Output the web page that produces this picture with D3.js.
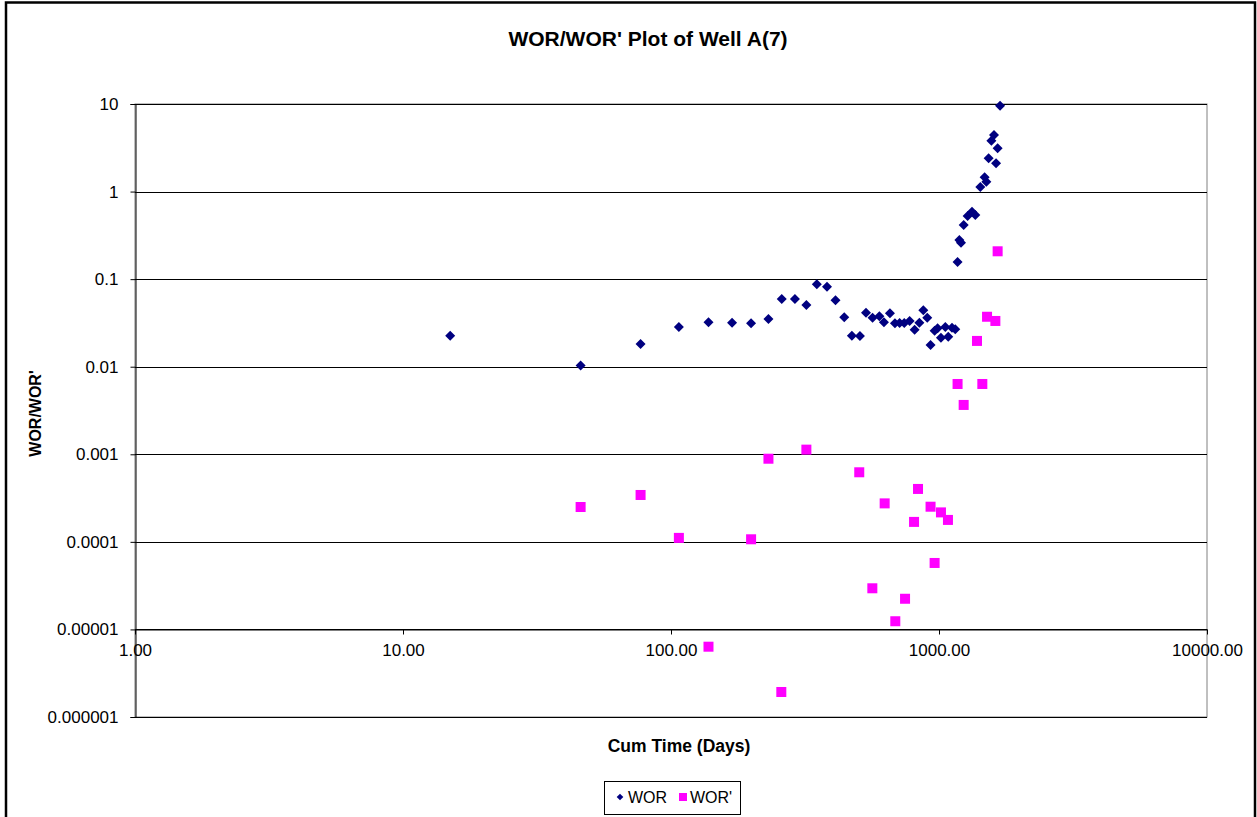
<!DOCTYPE html>
<html>
<head>
<meta charset="utf-8">
<script src="https://cdn.jsdelivr.net/npm/d3@7"></script>
<style>
  html, body { margin: 0; padding: 0; background: #fff; }
  svg { display: block; font-family: "Liberation Sans", Arial, sans-serif; }
</style>
</head>
<body>
<svg id="chart" width="1257" height="817"></svg>
<script>
// Cumulative time (days) and water-oil ratio
const worDays = [15, 46, 77, 107, 138, 169, 199, 231, 259, 290, 320, 350, 382, 411, 443,
  473, 507, 534, 565, 599, 623, 656, 685, 713, 742, 777, 811, 845, 874, 904,
  930, 963, 988, 1017, 1056, 1083, 1118, 1150, 1173, 1191, 1208, 1236, 1279, 1328, 1366,
  1426, 1480, 1502, 1532, 1568, 1604, 1633, 1655, 1690];
const worValues = [0.0226, 0.0103, 0.0182, 0.0284, 0.0321, 0.0318, 0.0313, 0.0351, 0.0593, 0.0593,
  0.0507, 0.0873, 0.082, 0.0573, 0.0367, 0.0226, 0.0224, 0.0414, 0.0363, 0.0376,
  0.0321, 0.0407, 0.0313, 0.0315, 0.0315, 0.0333, 0.0265, 0.0318, 0.0441, 0.0363,
  0.0177, 0.0258, 0.0275, 0.0214, 0.0284, 0.022, 0.0279, 0.0267, 0.157, 0.28,
  0.261, 0.415, 0.526, 0.589, 0.54, 1.128, 1.455, 1.296, 2.40, 3.81,
  4.43, 2.10, 3.12, 9.56];

// Derivative of WOR against cumulative time
const worPrimeDays = [46, 77, 107, 138, 199, 231, 258, 320, 504, 564, 627, 687, 747, 807, 835,
  930, 963, 1017, 1080, 1173, 1236, 1386, 1451, 1511, 1623, 1655];
const worPrimeValues = [0.00025, 0.000343, 0.000111, 0.00000635, 0.000107, 0.00089, 0.00000193,
  0.00113, 0.000623, 0.0000295, 0.000275, 0.0000124, 0.0000224, 0.000169, 0.000402,
  0.000252, 0.0000574, 0.000217, 0.000178, 0.00635, 0.00366, 0.0197, 0.00635, 0.0372,
  0.0333, 0.208];

const xTickValues = [1, 10, 100, 1000, 10000];
const xTickLabels = ["1.00", "10.00", "100.00", "1000.00", "10000.00"];
const yTickValues = [10, 1, 0.1, 0.01, 0.001, 0.0001, 0.00001, 0.000001];
const yTickLabels = ["10", "1", "0.1", "0.01", "0.001", "0.0001", "0.00001", "0.000001"];
const xAxisCrossing = 0.00001;

const svg = d3.select("#chart");
const plot = { left: 135, right: 1207, top: 104, bottom: 717 };

const x = d3.scaleLog().domain([1, 10000]).range([plot.left, plot.right]);
const y = d3.scaleLog().domain([0.000001, 10]).range([plot.bottom, plot.top]);

// Outer chart frame
svg.append("rect")
  .attr("x", 6).attr("y", 2.5)
  .attr("width", 1249).attr("height", 830)
  .attr("fill", "#fff").attr("stroke", "#000").attr("stroke-width", 2.5);

// Title
svg.append("text")
  .attr("x", 648).attr("y", 46)
  .attr("text-anchor", "middle")
  .attr("font-weight", "bold").attr("font-size", 21)
  .text("WOR/WOR' Plot of Well A(7)");

// Plot area border
svg.append("rect")
  .attr("x", plot.left).attr("y", plot.top)
  .attr("width", plot.right - plot.left).attr("height", plot.bottom - plot.top)
  .attr("fill", "#fff").attr("stroke", "#808080").attr("stroke-width", 1);

// Horizontal gridlines at each decade
svg.append("g")
  .selectAll("line")
  .data(yTickValues)
  .join("line")
  .attr("x1", plot.left).attr("x2", plot.right)
  .attr("y1", d => Math.round(y(d)) + 0.5).attr("y2", d => Math.round(y(d)) + 0.5)
  .attr("stroke", "#000").attr("stroke-width", 1);

// Y axis
const yAxis = d3.axisLeft(y)
  .tickValues(yTickValues)
  .tickFormat((d, i) => yTickLabels[i])
  .tickSize(5).tickPadding(12);
const gy = svg.append("g")
  .attr("transform", `translate(${plot.left + 0.5},0)`)
  .call(yAxis);
gy.select(".domain").attr("stroke", "#000");
gy.selectAll(".tick line").attr("stroke", "#000");
gy.selectAll(".tick text")
  .attr("font-family", "Liberation Sans, Arial, sans-serif")
  .attr("font-size", 17).attr("fill", "#000");

// X axis, crossing the value axis at 0.00001
const xAxis = d3.axisBottom(x)
  .tickValues(xTickValues)
  .tickFormat((d, i) => xTickLabels[i])
  .tickSize(5).tickSizeOuter(0).tickPadding(9);
const gx = svg.append("g")
  .attr("transform", `translate(0,${Math.round(y(xAxisCrossing)) + 0.5})`)
  .call(xAxis);
gx.select(".domain").attr("stroke", "#000");
gx.selectAll(".tick line").attr("stroke", "#000");
gx.selectAll(".tick text")
  .attr("font-family", "Liberation Sans, Arial, sans-serif")
  .attr("font-size", 17).attr("fill", "#000");

// Axis titles
svg.append("text")
  .attr("x", 679).attr("y", 752)
  .attr("text-anchor", "middle")
  .attr("font-weight", "bold").attr("font-size", 17.5)
  .text("Cum Time (Days)");

svg.append("text")
  .attr("transform", `translate(41,${(plot.top + plot.bottom) / 2 + 3}) rotate(-90)`)
  .attr("text-anchor", "middle")
  .attr("font-weight", "bold").attr("font-size", 16)
  .text("WOR/WOR'");

// WOR series: navy diamonds (squares turned 45 degrees)
const diamondPath = d3.symbol().type(d3.symbolSquare).size(50);
const worData = worDays.map((d, i) => ({ day: d, value: worValues[i] }));
svg.append("g")
  .selectAll("path")
  .data(worData)
  .join("path")
  .attr("d", diamondPath)
  .attr("transform", d => `translate(${x(d.day)},${y(d.value)}) rotate(45)`)
  .attr("fill", "#000080");

// WOR' series: magenta squares
const primeData = worPrimeDays.map((d, i) => ({ day: d, value: worPrimeValues[i] }));
svg.append("g")
  .selectAll("rect")
  .data(primeData)
  .join("rect")
  .attr("x", d => x(d.day) - 5).attr("y", d => y(d.value) - 5)
  .attr("width", 10).attr("height", 10)
  .attr("fill", "#FF00FF");

// Legend
const legend = svg.append("g");
legend.append("rect")
  .attr("x", 604.5).attr("y", 781.5).attr("width", 136).attr("height", 33)
  .attr("fill", "#fff").attr("stroke", "#000").attr("stroke-width", 1);
legend.append("path")
  .attr("d", d3.symbol().type(d3.symbolSquare).size(22))
  .attr("transform", "translate(620,797) rotate(45)")
  .attr("fill", "#000080");
legend.append("text")
  .attr("x", 628).attr("y", 803).attr("font-size", 16).text("WOR");
legend.append("rect")
  .attr("x", 679).attr("y", 793).attr("width", 8).attr("height", 8)
  .attr("fill", "#FF00FF");
legend.append("text")
  .attr("x", 690).attr("y", 803).attr("font-size", 16).text("WOR'");
</script>
</body>
</html>
